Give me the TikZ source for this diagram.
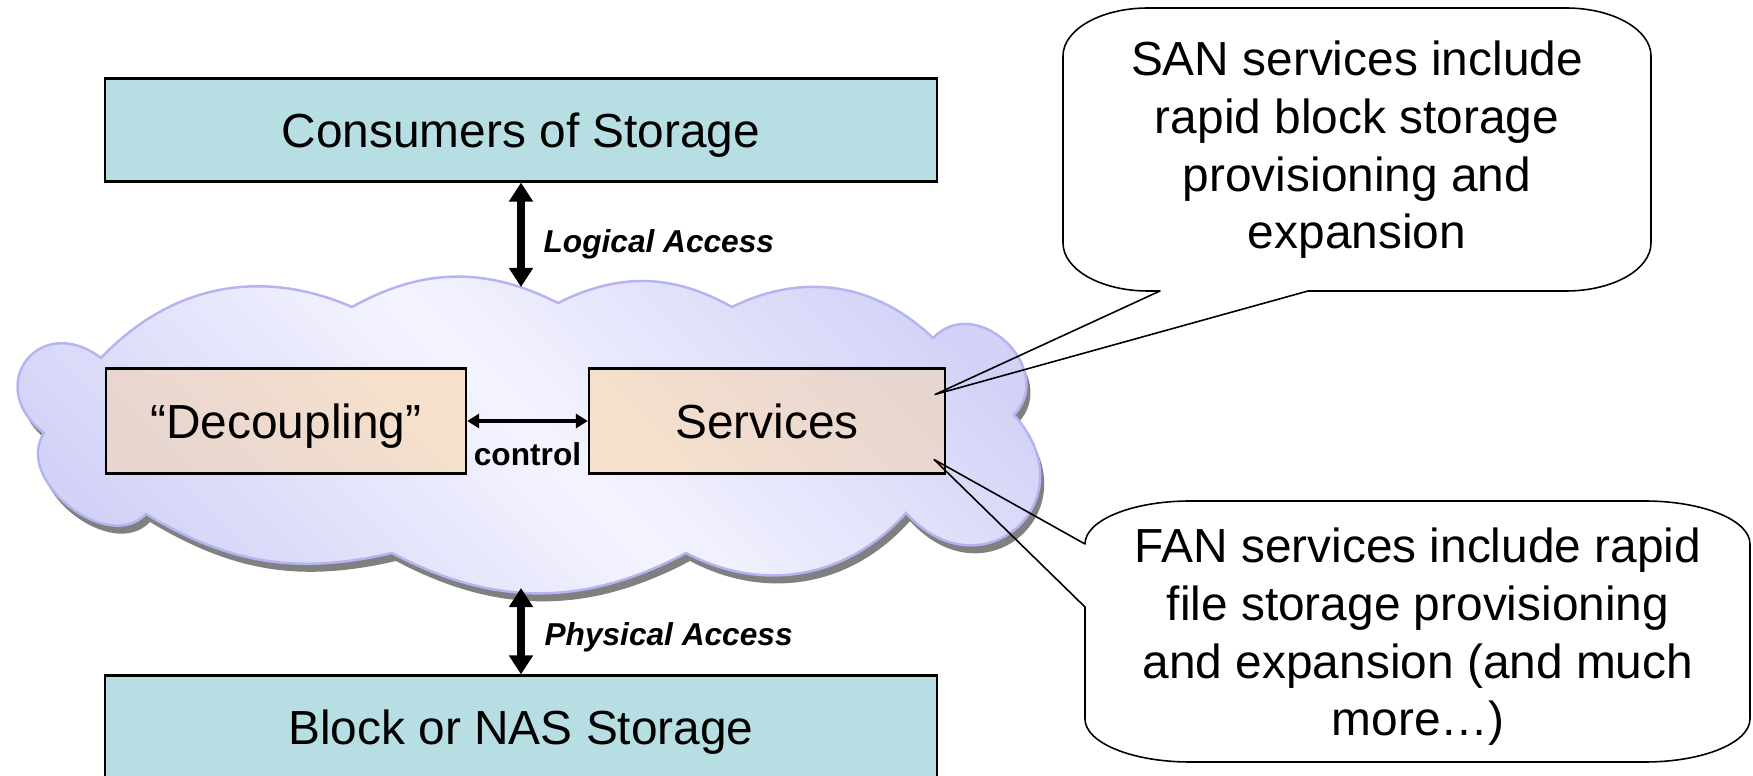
\documentclass[tikz,border=0pt]{standalone}
\usepackage{fontspec}
\setmainfont{Liberation Sans}
\usetikzlibrary{arrows.meta,positioning,shadows}
\definecolor{boxteal}{RGB}{183,223,227}
\definecolor{peachlight}{RGB}{247,225,204}
\definecolor{peachdark}{RGB}{231,213,208}
\definecolor{cloudlight}{RGB}{244,244,255}
\definecolor{clouddark}{RGB}{210,210,247}
\definecolor{cloudedge}{RGB}{180,180,240}
\definecolor{cloudshadow}{RGB}{128,128,128}
\newcommand{\bigtext}{\fontsize{13.6}{16.4}\selectfont}
\newcommand{\smalltext}{\fontsize{9}{11}\selectfont\bfseries}

\begin{document}
\begin{tikzpicture}[x=0.01cm, y=-0.01cm,
  storagebox/.style={draw=black, line width=0.6pt, fill=boxteal, minimum width=8.31cm, minimum height=1.03cm, inner sep=0pt, text height=9.8pt, text depth=0pt, font=\bigtext},
  layerbox/.style={draw=black, line width=0.6pt, minimum height=1.05cm, inner sep=0pt, text height=9.8pt, text depth=0pt, font=\bigtext},
  accessarrow/.style={{Triangle[width=0.23cm,length=0.19cm]}-{Triangle[width=0.23cm,length=0.19cm]}, line width=2.2pt},
  controlarrow/.style={{Triangle[width=0.14cm,length=0.12cm]}-{Triangle[width=0.14cm,length=0.12cm]}, line width=0.9pt},
  calloutline/.style={line width=0.45pt, line join=round},
  notetext/.style={align=center, font=\bigtext, inner sep=0pt}
]
\useasboundingbox (0,0) rectangle (1753,776);

% cloud behind the two layer boxes
\draw[draw=cloudedge, line width=0.7pt,
  left color=clouddark, right color=clouddark, middle color=cloudlight, shading angle=135,
  drop shadow={shadow xshift=0.04cm, shadow yshift=-0.08cm, fill=cloudshadow, opacity=1}]
  (101,358) to[bend left=35] (352,307) to[bend left=28] (558,303)
  to[bend left=28] (732,307) to[bend left=35] (933,338)
  to[bend left=90, looseness=1.45] (1014,415) to[bend left=90, looseness=2] (906,513)
  to[bend left=38] (686,553) to[bend left=28] (392,553)
  to[bend left=22] (146,514) to[bend left=85, looseness=1.1] (44,433)
  to[bend left=90, looseness=2.1] (101,358) -- cycle;

\node[storagebox] (consumers) at (521,130) {Consumers of Storage};
\node[storagebox] (storage) at (521,727) {Block or NAS Storage};
\node[layerbox, minimum width=3.6cm, left color=peachdark, right color=peachlight, shading angle=135] (decoupling) at (286,421) {“Decoupling”};
\node[layerbox, minimum width=3.56cm, left color=peachlight, right color=peachdark, shading angle=135] (services) at (767,421) {Services};

\coordinate (cloudTop) at (521,287);
\coordinate (cloudBottom) at (521,588);

\draw[accessarrow] (consumers) -- (cloudTop) node[midway, right=0.07cm, yshift=-0.1cm, font=\smalltext\itshape] (logical) {Logical Access};
\draw[accessarrow] (cloudBottom) -- (storage) node[midway, right=0.08cm, yshift=-0.065cm, font=\smalltext\itshape] (physical) {Physical Access};
\draw[controlarrow] (decoupling) -- (services) node[midway, below=0.08cm, font=\smalltext] (controllabel) {control};

% callouts pointing into the services box
\coordinate (sanTip) at ([xshift=-0.11cm, yshift=-0.27cm]services.north east);
\coordinate (fanTip) at ([xshift=-0.12cm, yshift=0.15cm]services.south east);

\node[notetext] (sanNote) at (1357,150) {SAN services include\\rapid block storage\\provisioning and\\expansion};
\draw[calloutline] (sanTip) -- (1160,291) -- (1148,291)
  .. controls (1101,291) and (1063,269.5) .. (1063,243) -- (1063,56)
  .. controls (1063,29.5) and (1101,8) .. (1148,8) -- (1566,8)
  .. controls (1613,8) and (1651,29.5) .. (1651,56) -- (1651,243)
  .. controls (1651,269.5) and (1613,291) .. (1566,291) -- (1308,291) -- cycle;

\node[notetext] (fanNote) at (1418,637) {FAN services include rapid\\file storage provisioning\\and expansion (and much\\more…)};
\draw[calloutline] (fanTip) -- (1085,607) -- (1085,719)
  .. controls (1085,742.7) and (1132,762) .. (1190,762) -- (1645,762)
  .. controls (1703,762) and (1750,742.7) .. (1750,719) -- (1750,544)
  .. controls (1750,520.3) and (1703,501) .. (1645,501) -- (1190,501)
  .. controls (1132,501) and (1085,520.3) .. (1085,544) -- cycle;
\end{tikzpicture}
\end{document}
